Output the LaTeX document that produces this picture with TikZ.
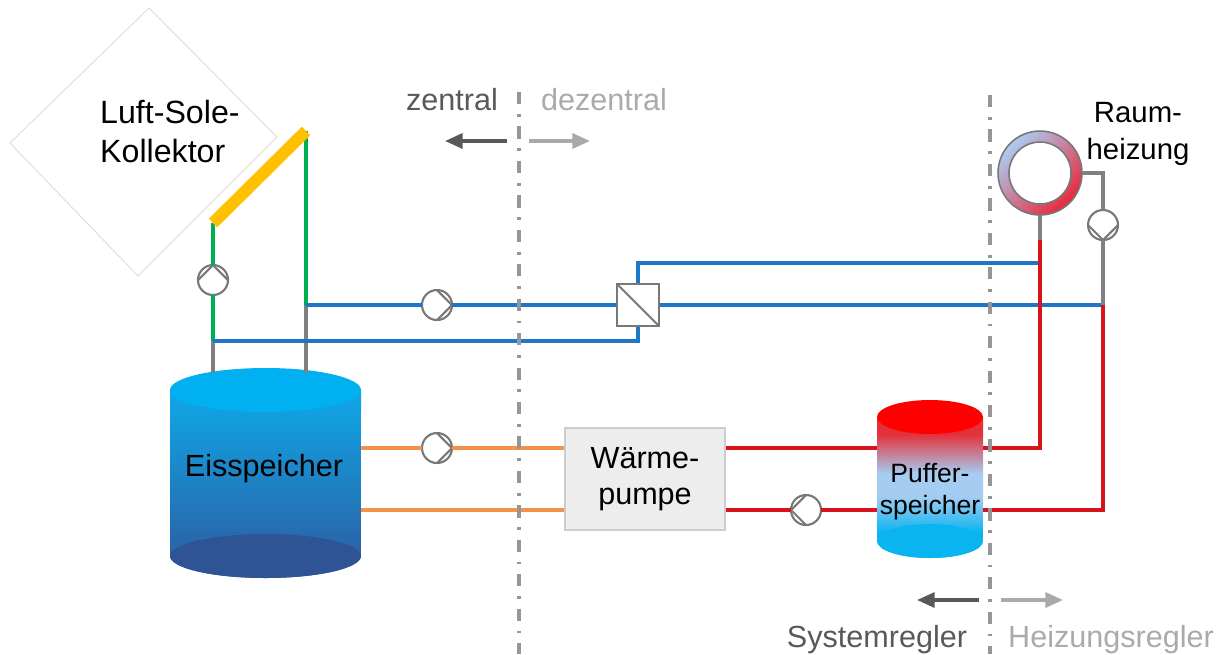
\documentclass[tikz,border=0pt]{standalone}
\usepackage{fontspec}
\setmainfont{Liberation Sans}
\usetikzlibrary{arrows.meta}
\definecolor{rohrblau}{RGB}{30,118,200}
\definecolor{solegruen}{RGB}{0,176,80}
\definecolor{rohrrot}{RGB}{215,20,30}
\definecolor{rohrorange}{RGB}{244,145,74}
\definecolor{rohrgrau}{RGB}{128,128,128}
\definecolor{pumpgrau}{RGB}{120,120,120}
\definecolor{trennergrau}{RGB}{150,150,150}
\definecolor{dunkelgrau}{RGB}{89,89,89}
\definecolor{hellgrau}{RGB}{170,170,170}
\definecolor{kollektorgelb}{RGB}{255,192,0}
\definecolor{eisdeckel}{RGB}{0,176,240}
\definecolor{eisoben}{RGB}{14,168,232}
\definecolor{eisunten}{RGB}{46,90,158}
\definecolor{eisboden}{RGB}{47,84,150}
\definecolor{pufferdeckel}{RGB}{255,0,0}
\definecolor{pufferoben}{RGB}{228,48,58}
\definecolor{pufferhell}{RGB}{165,205,242}
\definecolor{pufferunten}{RGB}{10,180,240}
\definecolor{ringblau}{RGB}{172,204,242}
\definecolor{ringrot}{RGB}{232,40,58}
\definecolor{wpfuell}{RGB}{237,237,237}
\definecolor{wprand}{RGB}{205,205,205}
\pgfdeclareverticalshading{pufferverlauf}{100bp}{color(0bp)=(pufferunten); color(34bp)=(pufferunten);
  color(47bp)=(pufferhell); color(55bp)=(pufferhell); color(69bp)=(pufferoben); color(100bp)=(pufferoben)}

\begin{document}
\begin{tikzpicture}[x=0.02cm,y=-0.02cm,
    rohr/.style={line width=1.9pt},
    pumpe/.style={circle,draw=pumpgrau,fill=white,line width=1.2pt,minimum size=0.6cm,inner sep=0pt,outer sep=0pt,
      append after command={(\tikzlastnode.north) edge[pumpgrau,line width=1.2pt] (\tikzlastnode.east)
        (\tikzlastnode.south) edge[pumpgrau,line width=1.2pt] (\tikzlastnode.east)}},
    trenner/.style={draw=trennergrau,line width=1.8pt,dash pattern=on 7pt off 5.5pt on 1.6pt off 5.5pt},
    pfeil/.style={line width=1.9pt,-{Triangle[length=10pt,width=8.5pt]}},
    gross/.style={font=\fontsize{17.4}{20.5}\selectfont}]
        \useasboundingbox (0,0) rectangle (1220,654);

        % Kollektor
        \draw[line width=0.5pt,black!14] (149,8) -- (277,137) -- (138,276) -- (10,143) -- cycle;
        \node[font=\fontsize{18.3}{22.2}\selectfont,align=left,anchor=west] (kollektortext) at (94,131) {Luft-Sole-\\Kollektor};
        \coordinate (kolA) at (213,223);
        \coordinate (kolB) at (306,131);

        % Eisspeicher
        \shade[top color=eisoben,bottom color=eisunten] (170,390) -- (170,556) arc[start angle=180,end angle=360,x radius=1.91cm,y radius=0.44cm] -- (361,390) -- cycle;
        \fill[eisboden] (265.5,556) ellipse [x radius=1.91cm,y radius=0.44cm];
        \fill[eisdeckel] (265.5,390) ellipse [x radius=1.91cm,y radius=0.44cm];
        \node[minimum width=3.82cm,minimum height=3.32cm] (eis) at (265.5,473) {};
        \node[gross,anchor=base] (eistext) at (264,476) {Eisspeicher};
        \coordinate (eisA) at (213,373);
        \coordinate (eisB) at (306,373);

        % Pufferspeicher
        \shade[shading=pufferverlauf] (877,417) -- (877,541) arc[start angle=180,end angle=360,x radius=1.06cm,y radius=0.34cm] -- (983,417) -- cycle;
        \fill[pufferunten] (930,541) ellipse [x radius=1.06cm,y radius=0.34cm];
        \fill[pufferdeckel] (930,417) ellipse [x radius=1.06cm,y radius=0.34cm];
        \node[minimum width=2.12cm,minimum height=2.48cm] (puffer) at (930,479) {};
        \node[font=\fontsize{15.1}{18.2}\selectfont,align=center] (puffertext) at (930,492) {Puffer-\\speicher};

        % Waermepumpe, Tauscher, Raumheizung
        \node[draw=wprand,fill=wpfuell,line width=0.6pt,minimum width=3.2cm,minimum height=2.04cm,gross,align=center] (wp) at (645,479) {Wärme-\\pumpe};
        \node[draw=pumpgrau,fill=white,line width=1.2pt,minimum size=0.84cm,inner sep=0pt,
          path picture={\draw[pumpgrau,line width=1.2pt] (path picture bounding box.north west) -- (path picture bounding box.south east);}] (wt) at (638,305) {};
        \shade[even odd rule,top color=ringblau,middle color=ringblau,bottom color=ringrot,shading angle=45]
          (1040,173) circle (0.84cm) (1040,173) circle (0.62cm);
        \node[circle,draw=pumpgrau,line width=0.9pt,minimum size=1.68cm,inner sep=0pt,outer sep=0pt] (rh) at (1040,173) {};
        \draw[pumpgrau,line width=0.9pt] (rh.center) circle (0.62cm);
        \node[font=\fontsize{16.7}{21}\selectfont,align=center] (rhtext) at (1138,134) {Raum-\\heizung};

        % Pumpen
        \node[pumpe,rotate=90] (pk) at (213,280) {};
        \node[pumpe] (pb) at (437,305) {};
        \node[pumpe] (po) at (437,448) {};
        \node[pumpe,rotate=180] (pr) at (806,510) {};
        \node[pumpe,rotate=-90] (ph) at (1103,225) {};

        \coordinate (e1) at (213,341);
        \coordinate (e2) at (306,305);
        \coordinate (b3) at (1040,263);
        \coordinate (b4) at (1103,305);
        \coordinate (r1) at (1040,448);
        \coordinate (r2) at (1040,240);
        \coordinate (r3) at (1103,510);
        \coordinate (vl) at (0,448);
        \coordinate (rl) at (0,510);

        % Solekreis
        \draw[rohr,solegruen] (kolA) -- (pk) -- (e1);
        \draw[rohr,solegruen] (kolB) -- (e2);
        \draw[rohr,rohrgrau] (e1) -- (eisA);
        \draw[rohr,rohrgrau] (e2) -- (eisB);
        \draw[line width=6.8pt,kollektorgelb] (kolA) -- (kolB);
        \draw[rohr,rohrblau] (e2) -- (pb) -- (wt);
        \draw[rohr,rohrblau] (e1) -- (wt.south |- e1) -- (wt.south);
        \draw[rohr,rohrblau] (wt.north) -- (wt.north |- b3) -- (b3);
        \draw[rohr,rohrblau] (wt) -- (b4);

        % Waermepumpenkreis
        \draw[rohr,rohrorange] (eis.east |- vl) -- (po) -- (wp.west |- vl);
        \draw[rohr,rohrorange] (eis.east |- rl) -- (wp.west |- rl);
        \draw[rohr,rohrrot] (wp.east |- vl) -- (puffer.west |- vl);
        \draw[rohr,rohrrot] (wp.east |- rl) -- (pr) -- (puffer.west |- rl);

        % Heizkreis
        \draw[rohr,rohrrot] (puffer.east |- vl) -- (r1) -- (r2);
        \draw[rohr,rohrgrau] (r2) -- (rh);
        \draw[rohr,rohrrot] (puffer.east |- rl) -- (r3) -- (b4);
        \draw[rohr,rohrgrau] (b4) -- (ph) -- (ph |- rh) -- (rh);

        % Grenzen
        \draw[trenner] (519,92) -- (519,654);
        \draw[trenner] (990,95) -- (990,654);

        \node[gross,text=dunkelgrau,anchor=base] (zentral) at (452,110) {zentral};
        \node[gross,text=hellgrau,anchor=base] (dezentral) at (604,110) {dezentral};
        \draw[pfeil,dunkelgrau] (507,141) -- (445,141);
        \draw[pfeil,hellgrau] (529,141) -- (590,141);

        \draw[pfeil,dunkelgrau] (979,600) -- (917,600);
        \draw[pfeil,hellgrau] (1001,600) -- (1063,600);
        \node[gross,text=dunkelgrau,anchor=base] (systemregler) at (877,647) {Systemregler};
        \node[gross,text=hellgrau,anchor=base] (heizungsregler) at (1111,647) {Heizungsregler};

\end{tikzpicture}
\end{document}
